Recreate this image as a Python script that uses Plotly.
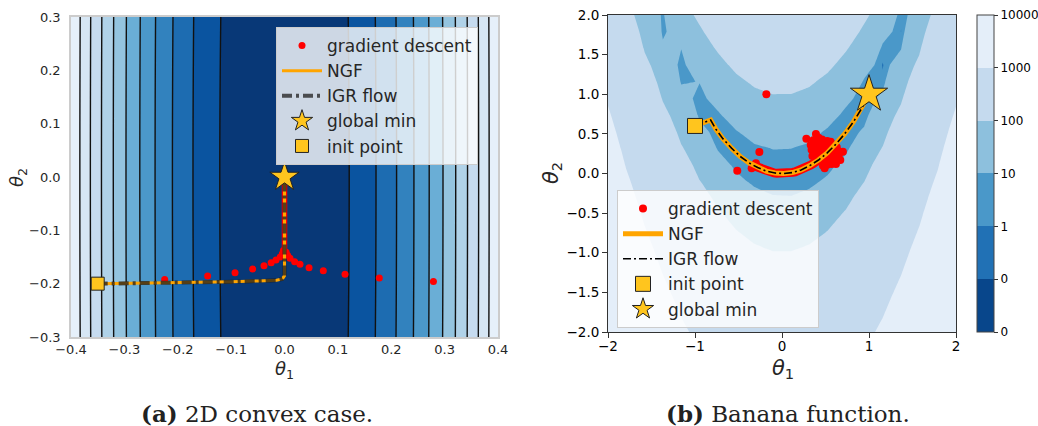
import numpy as np
import plotly.graph_objects as go

# ---------------- panel (a): 2D convex quadratic ----------------
conv_theta1 = np.linspace(-0.4, 0.4, 321)
conv_theta2 = np.linspace(-0.3, 0.3, 241)
conv_curvature = [1.0, 0.005]          # weights on theta1^2 and theta2^2
conv_level_start, conv_level_end, conv_level_step = 0.0147, 0.147, 0.0147
conv_colors = ["#083877", "#0a54a0", "#1d6cb1", "#3282be", "#4b98ca", "#6aaed6",
               "#94c4df", "#b0d2e8", "#c6dbef", "#d6e6f4", "#e6f0fa"]

gd_a_x = [0.279, -0.2245, 0.1776, -0.144, 0.1134, -0.0927, 0.0727, -0.0596, 0.046,
          -0.0384, 0.029, -0.025, 0.019, -0.0159, 0.0103, -0.008, 0.006, -0.004, 0.003, -0.002]
gd_a_y = [-0.196, -0.192, -0.1894, -0.1857, -0.1825, -0.1794, -0.1756, -0.1725, -0.170,
          -0.1663, -0.1638, -0.1607, -0.1588, -0.1556, -0.1525, -0.150, -0.147, -0.144, -0.141, -0.138]
gd_a_tail_x = [0.0, 0.0]
gd_a_tail_y = [-0.14, -0.004]

ngf_a_x = [-0.35, -0.2, -0.1, -0.05, -0.015, -0.004, 0.0, 0.0]
ngf_a_y = [-0.2, -0.1985, -0.1965, -0.195, -0.1935, -0.191, -0.185, 0.0]
igr_a_x = [-0.35, -0.2, -0.1, -0.05, -0.015, -0.004, 0.0, 0.0]
igr_a_y = [-0.2, -0.1985, -0.1965, -0.195, -0.1935, -0.191, -0.185, 0.0]
init_a_x, init_a_y = [-0.35], [-0.2]
min_a_x, min_a_y = [0.0], [0.0]

# ---------------- panel (b): banana (Rosenbrock) function ----------------
ban_theta = np.linspace(-2, 2, 20)
ban_a, ban_b = 1.0, 100.0
ban_levels = [0.01, 0.1, 1, 10, 100, 1000, 10000]
ban_colors = ["#08468b", "#2171b5", "#4a98c9", "#8dc0dd", "#c5daee", "#e4eef9"]
cbar_labels = ["0", "0", "1", "10", "100", "1000", "10000"]

gd_b_x = [-0.18, -0.514, -0.26, -0.349, -0.30,
          0.28, 0.39, 0.36, 0.42, 0.46, 0.33, 0.38, 0.43, 0.48, 0.52, 0.56,
          0.34, 0.39, 0.44, 0.49, 0.54, 0.59, 0.63, 0.37, 0.42, 0.47, 0.52,
          0.57, 0.62, 0.67, 0.70, 0.40, 0.45, 0.50, 0.55, 0.60, 0.65, 0.44,
          0.49, 0.54, 0.59, 0.67, 0.47, 0.52, 0.57, 0.49, 0.62, 0.35, 0.60, 0.45]
gd_b_y = [1.0, 0.035, 0.27, 0.066, 0.129,
          0.44, 0.50, 0.42, 0.45, 0.43, 0.36, 0.37, 0.38, 0.39, 0.41, 0.40,
          0.30, 0.31, 0.32, 0.33, 0.34, 0.35, 0.33, 0.25, 0.26, 0.27, 0.28,
          0.29, 0.28, 0.27, 0.275, 0.20, 0.21, 0.22, 0.22, 0.23, 0.21, 0.15,
          0.16, 0.16, 0.17, 0.17, 0.10, 0.11, 0.12, 0.066, 0.12, 0.22, 0.30, 0.36]
gd_b_dense_x = [-0.33, -0.30, -0.27, -0.24, -0.21, -0.18, -0.15, -0.12, -0.09, -0.06, -0.03,
                0.0, 0.03, 0.06, 0.09, 0.12, 0.15, 0.18, 0.21, 0.24, 0.27, 0.30, 0.33, 0.36, 0.39]
gd_b_dense_y = [0.10, 0.085, 0.07, 0.055, 0.04, 0.03, 0.02, 0.012, 0.007, 0.003, 0.001,
                0.0, 0.001, 0.004, 0.008, 0.014, 0.021, 0.031, 0.042, 0.055, 0.07, 0.087, 0.106, 0.127, 0.15]

ngf_b_x = [-1.0, -0.82, -0.76, -0.68, -0.58, -0.48, -0.38, -0.28, -0.18, -0.08, 0.02,
           0.12, 0.22, 0.32, 0.42, 0.52, 0.62, 0.72, 0.82, 0.92, 1.0]
ngf_b_y = [0.6, 0.675, 0.56, 0.44, 0.32, 0.215, 0.135, 0.075, 0.03, 0.006, 0.0,
           0.012, 0.045, 0.1, 0.17, 0.26, 0.37, 0.5, 0.65, 0.83, 1.0]
igr_b_x = [-1.0, -0.82, -0.76, -0.68, -0.58, -0.48, -0.38, -0.28, -0.18, -0.08, 0.02,
           0.12, 0.22, 0.32, 0.42, 0.52, 0.62, 0.72, 0.82, 0.92, 1.0]
igr_b_y = [0.6, 0.675, 0.56, 0.44, 0.32, 0.215, 0.135, 0.075, 0.03, 0.006, 0.0,
           0.012, 0.045, 0.1, 0.17, 0.26, 0.37, 0.5, 0.65, 0.83, 1.0]
init_b_x, init_b_y = [-1.0], [0.6]
min_b_x, min_b_y = [1.0], [1.0]

GOLD = "#FFC51E"
ORANGE = "#FFA500"
W, H = 1038, 426

fig = go.Figure()

# ---- panel (a) ----
T1, T2 = np.meshgrid(conv_theta1, conv_theta2)
conv_z = conv_curvature[0] * T1 ** 2 + conv_curvature[1] * T2 ** 2
n_conv = len(conv_colors) - 1
fig.add_trace(go.Contour(
    x=conv_theta1, y=conv_theta2, z=conv_z,
    contours=dict(start=conv_level_start, end=conv_level_end, size=conv_level_step,
                  coloring="fill", showlines=True),
    colorscale=[[k / n_conv, c] for k, c in enumerate(conv_colors)],
    line=dict(color="#111111", width=1.4, smoothing=0),
    showscale=False, hoverinfo="skip", xaxis="x", yaxis="y"))

fig.add_trace(go.Scatter(x=gd_a_tail_x, y=gd_a_tail_y, mode="lines",
                         line=dict(color="red", width=5.5), showlegend=False,
                         hoverinfo="skip", xaxis="x", yaxis="y"))
fig.add_trace(go.Scatter(x=gd_a_x, y=gd_a_y, mode="markers", name="gradient descent",
                         marker=dict(color="red", size=7), legend="legend", legendgroup="a1",
                         legendrank=1, xaxis="x", yaxis="y"))
fig.add_trace(go.Scatter(x=ngf_a_x, y=ngf_a_y, mode="lines", name="NGF",
                         line=dict(color=ORANGE, width=3), legend="legend", legendgroup="a2",
                         legendrank=2, xaxis="x", yaxis="y"))
fig.add_trace(go.Scatter(x=igr_a_x, y=igr_a_y, mode="lines", name="IGR flow",
                         line=dict(color="rgba(30,30,30,0.75)", width=4, dash="10px,4px,3px,4px"),
                         legend="legend", legendgroup="a3", legendrank=3, xaxis="x", yaxis="y"))
fig.add_trace(go.Scatter(x=init_a_x, y=init_a_y, mode="markers", name="init point",
                         marker=dict(symbol="square", size=13, color=GOLD,
                                     line=dict(color="#222222", width=1)),
                         legend="legend", legendgroup="a5", legendrank=5, xaxis="x", yaxis="y"))
fig.add_trace(go.Scatter(x=min_a_x, y=min_a_y, mode="markers", name="global min",
                         marker=dict(symbol="star", size=22, color=GOLD,
                                     line=dict(color="#222222", width=1)),
                         legend="legend", legendgroup="a4", legendrank=4, xaxis="x", yaxis="y"))

# ---- panel (b) ----
B1, B2 = np.meshgrid(ban_theta, ban_theta)
ban_z = (ban_a - B1) ** 2 + ban_b * (B2 - B1 ** 2) ** 2
for lev, col in zip(ban_levels[:-1], ban_colors):
    fig.add_trace(go.Contour(
        x=ban_theta, y=ban_theta, z=ban_z,
        contours=dict(type="constraint", operation="<", value=lev),
        fillcolor=col, line=dict(width=0, color="rgba(0,0,0,0)", smoothing=0),
        showscale=False, showlegend=False, hoverinfo="skip", xaxis="x2", yaxis="y2"))

fig.add_trace(go.Scatter(x=gd_b_dense_x, y=gd_b_dense_y, mode="lines",
                         line=dict(color="red", width=9), showlegend=False,
                         hoverinfo="skip", xaxis="x2", yaxis="y2"))
fig.add_trace(go.Scatter(x=gd_b_x, y=gd_b_y, mode="markers", name="gradient descent",
                         marker=dict(color="red", size=8), legend="legend2", legendgroup="b1",
                         legendrank=1, xaxis="x2", yaxis="y2"))
fig.add_trace(go.Scatter(x=ngf_b_x, y=ngf_b_y, mode="lines", name="NGF",
                         line=dict(color=ORANGE, width=5), legend="legend2", legendgroup="b2",
                         legendrank=2, xaxis="x2", yaxis="y2"))
fig.add_trace(go.Scatter(x=igr_b_x, y=igr_b_y, mode="lines", name="IGR flow",
                         line=dict(color="black", width=1.6, dash="8px,3px,2px,3px"),
                         legend="legend2", legendgroup="b3", legendrank=3, xaxis="x2", yaxis="y2"))
fig.add_trace(go.Scatter(x=init_b_x, y=init_b_y, mode="markers", name="init point",
                         marker=dict(symbol="square", size=15, color=GOLD,
                                     line=dict(color="#222222", width=1)),
                         legend="legend2", legendgroup="b4", legendrank=4, xaxis="x2", yaxis="y2"))
fig.add_trace(go.Scatter(x=min_b_x, y=min_b_y, mode="markers", name="global min",
                         marker=dict(symbol="star", size=28, color=GOLD,
                                     line=dict(color="#222222", width=1)),
                         legend="legend2", legendgroup="b5", legendrank=5, xaxis="x2", yaxis="y2"))

# discrete colour bar for the log-spaced levels
n_b = len(ban_colors)
cb_scale = []
for k, c in enumerate(ban_colors):
    cb_scale += [[k / n_b, c], [(k + 1) / n_b, c]]
log_ticks = [float(np.log10(v)) for v in ban_levels]
fig.add_trace(go.Scatter(
    x=[None], y=[None], mode="markers", showlegend=False, hoverinfo="skip",
    marker=dict(color=[log_ticks[0]], cmin=log_ticks[0], cmax=log_ticks[-1],
                colorscale=cb_scale, showscale=True, size=0.1,
                colorbar=dict(thickness=17, len=317, lenmode="pixels",
                              x=977 / W, xanchor="left", y=1 - 173.5 / H, yanchor="middle",
                              outlinecolor="#444444", outlinewidth=1, xpad=0, ypad=0,
                              tickvals=log_ticks, ticktext=cbar_labels,
                              ticks="outside", ticklen=4, tickcolor="#333333",
                              tickfont=dict(family="DejaVu Sans", size=12, color="black"))),
    xaxis="x2", yaxis="y2"))


def minus(v, fmt):
    return (fmt % v).replace("-", "\u2212")


conv_xt = [-0.4, -0.3, -0.2, -0.1, 0.0, 0.1, 0.2, 0.3, 0.4]
conv_yt = [-0.3, -0.2, -0.1, 0.0, 0.1, 0.2, 0.3]
ban_xt = [-2, -1, 0, 1, 2]
ban_yt = [-2.0, -1.5, -1.0, -0.5, 0.0, 0.5, 1.0, 1.5, 2.0]

axa = dict(showgrid=False, zeroline=False, showline=True, linecolor="#cccccc",
           linewidth=1.5, mirror=True, ticks="", automargin=False,
           tickfont=dict(family="DejaVu Sans", size=13, color="#262626"))
axb = dict(showgrid=False, zeroline=False, showline=True, linecolor="#333333",
           linewidth=1, mirror=True, ticks="outside", ticklen=5, tickcolor="#333333",
           automargin=False,
           tickfont=dict(family="DejaVu Sans", size=13.5, color="black"))

fig.update_layout(
    width=W, height=H, margin=dict(l=0, r=0, t=0, b=0, autoexpand=False),
    paper_bgcolor="white", plot_bgcolor="white",
    xaxis=dict(axa, domain=[71 / W, 498 / W], range=[-0.4, 0.4], anchor="y",
               ticklabelstandoff=0,
               tickvals=conv_xt, ticktext=[minus(v, "%.1f") for v in conv_xt]),
    yaxis=dict(axa, domain=[1 - 337 / H, 1 - 17 / H], range=[-0.3, 0.3], anchor="x",
               ticklabelstandoff=6,
               tickvals=conv_yt, ticktext=[minus(v, "%.1f") for v in conv_yt]),
    xaxis2=dict(axb, domain=[608 / W, 956 / W], range=[-2, 2], anchor="y2",
                ticklabelstandoff=-3,
                tickvals=ban_xt, ticktext=[minus(v, "%d") for v in ban_xt]),
    yaxis2=dict(axb, domain=[1 - 332 / H, 1 - 15 / H], range=[-2, 2], anchor="x2",
                tickvals=ban_yt, ticktext=[minus(v, "%.1f") for v in ban_yt]),
    legend=dict(x=276 / W, y=1 - 27 / H, xanchor="left", yanchor="top",
                bgcolor="rgba(255,255,255,0.8)", bordercolor="#cccccc", borderwidth=1,
                font=dict(family="DejaVu Sans", size=17, color="#262626"),
                tracegroupgap=0, itemwidth=40),
    legend2=dict(x=617 / W, y=1 - 190 / H, xanchor="left", yanchor="top",
                 bgcolor="rgba(255,255,255,0.8)", bordercolor="#cccccc", borderwidth=1,
                 font=dict(family="DejaVu Sans", size=17, color="#262626"),
                 tracegroupgap=0, itemwidth=40),
    showlegend=True,
)

ann = [
    dict(text="<i>θ</i><sub>1</sub>", x=284 / W, y=1 - 370 / H, size=18),
    dict(text="<i>θ</i><sub>2</sub>", x=18 / W, y=1 - 177 / H, size=18, angle=-90),
    dict(text="<i>θ</i><sub>1</sub>", x=783 / W, y=1 - 369 / H, size=21),
    dict(text="<i>θ</i><sub>2</sub>", x=552 / W, y=1 - 173 / H, size=21, angle=-90),
]
for a in ann:
    fig.add_annotation(text=a["text"], x=a["x"], y=a["y"], xref="paper", yref="paper",
                       xanchor="center", yanchor="middle", showarrow=False,
                       textangle=a.get("angle", 0),
                       font=dict(family="DejaVu Sans", size=a["size"], color="#262626"))

captions = [("<b>(a)</b> 2D convex case.", 256.5), ("<b>(b)</b> Banana function.", 787.5)]
for txt, cx in captions:
    fig.add_annotation(text=txt, x=cx / W, y=1 - 413 / H, xref="paper", yref="paper",
                       xanchor="center", yanchor="middle", showarrow=False,
                       font=dict(family="DejaVu Serif", size=23, color="#222222"))

fig.write_html("out.html")
